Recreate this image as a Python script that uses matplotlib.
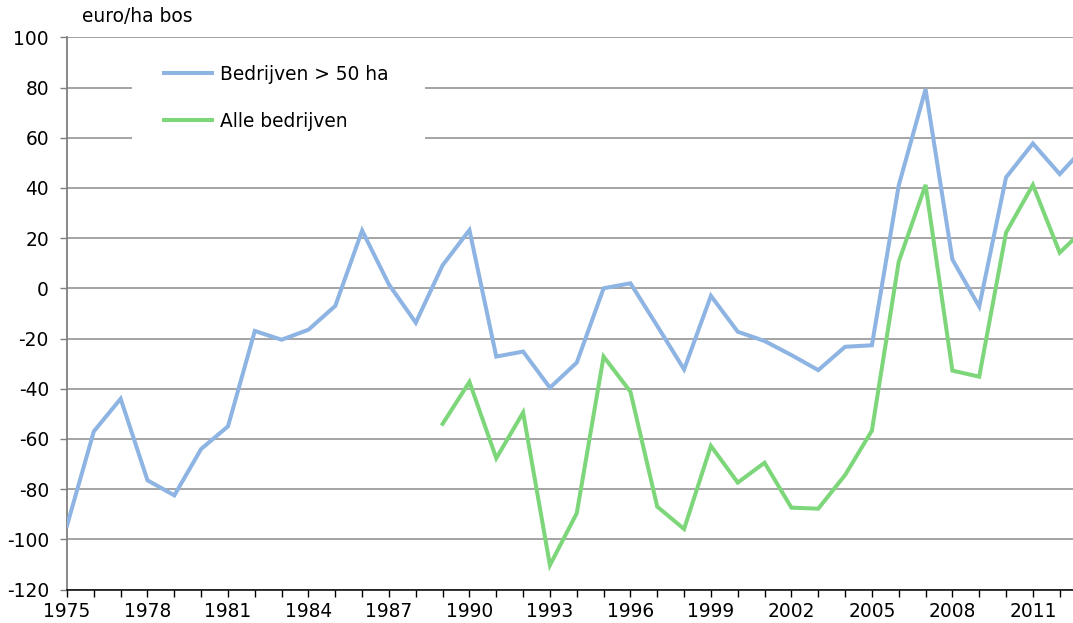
import matplotlib
matplotlib.use('Agg')

from matplotlib import pyplot as plt
from matplotlib.patches import Rectangle
import numpy as np

# data (euro/ha bos)
years_big = list(range(1975, 2014))
bedrijven_50 = [-94.5, -57, -44, -76.5, -82.5, -64, -55, -17, -20.5, -16.5,
                -7, 23, 1.5, -13.7, 9.2, 23.2, -27.2, -25.2, -39.6, -29.6,
                0, 2, -15, -32.3, -3, -17.3, -21, -26.6, -32.6, -23.3,
                -22.7, 41, 79.3, 11.5, -7.3, 44.2, 57.7, 45.5, 57]

years_all = list(range(1989, 2014))
alle_bedrijven = [-54, -37.3, -67.7, -49.5, -110.3, -89.6, -27.2, -41.2, -87, -95.9,
                  -62.8, -77.4, -69.5, -87.4, -87.8, -74.4, -56.7, 10.6, 41.2, -32.8,
                  -35.2, 22.2, 41.2, 14.2, 24.5]

label_big = 'Bedrijven > 50 ha'
label_all = 'Alle bedrijven'
y_unit = 'euro/ha bos'

blue = '#8DB4E2'
green = '#7DD77A'
grid_col = '#8C8C8C'

plt.rcParams['font.family'] = 'DejaVu Sans'
plt.rcParams['axes.unicode_minus'] = False
fs = 13.4

fig = plt.figure(figsize=(10.73, 6.23), dpi=100)
W, H = 1073, 623
ax = fig.add_axes([67 / W, 1 - 589.5 / H, 1 - 67 / W, (589.5 - 37.3) / H])

ax.plot(years_big, bedrijven_50, color=blue, lw=2.9, label=label_big,
        solid_joinstyle='miter', zorder=3)
ax.plot(years_all, alle_bedrijven, color=green, lw=2.9, label=label_all,
        solid_joinstyle='miter', zorder=3)

ax.set_xlim(1975, 1975 + (W - 67) / 26.83)
ax.set_ylim(-120, 100)
ax.set_yticks(np.arange(-120, 101, 20))
ax.set_xticks(np.arange(1975, 2013))
ax.set_xticklabels([str(y) if (y - 1975) % 3 == 0 else '' for y in range(1975, 2013)])

ax.set_axisbelow(True)
ax.yaxis.grid(True, color=grid_col, lw=1.1)
ax.xaxis.grid(False)

for s in ['top', 'right']:
    ax.spines[s].set_visible(False)
ax.spines['left'].set_color('#7F7F7F')
ax.spines['left'].set_linewidth(1.3)
ax.spines['bottom'].set_color('black')
ax.spines['bottom'].set_linewidth(1.1)

ax.tick_params(axis='y', length=5, width=1, color='#7F7F7F', labelsize=fs, pad=8)
ax.tick_params(axis='x', length=5, width=1, color='black', labelsize=fs, pad=4)

# white box behind the legend hides the gridlines there
x0 = 1975 + (132 - 67) / 26.83
x1 = 1975 + (425 - 67) / 26.83
ax.add_patch(Rectangle((x0, 45), x1 - x0, 50, facecolor='white', edgecolor='none', zorder=1))

fig.legend(loc='upper left', bbox_to_anchor=(164 / W, 1 - 65 / H), frameon=False,
           fontsize=fs, handlelength=2.6, handletextpad=0.4, labelspacing=1.5,
           borderpad=0, borderaxespad=0)

fig.text(82 / W, 1 - 16 / H, y_unit, fontsize=fs, va='center', ha='left')

fig.savefig('out.png', dpi=100)
plt.close(fig)
